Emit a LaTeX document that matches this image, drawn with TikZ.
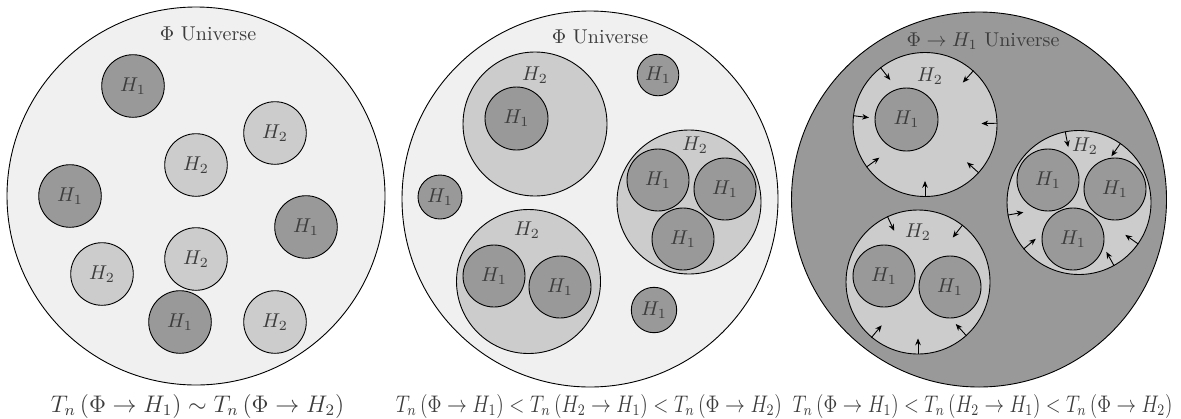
\documentclass[tikz,border=0pt]{standalone}
\usepackage{graphicx}
\usetikzlibrary{arrows.meta,calc}
\definecolor{bgA}{RGB}{240,240,240}
\definecolor{hTwo}{RGB}{204,204,204}
\definecolor{hOne}{RGB}{153,153,153}
\definecolor{txt}{RGB}{60,60,60}
\tikzset{
  ball/.style={circle, draw=black, line width=0.45pt, inner sep=0pt, text=txt},
  univ/.style={ball, fill=bgA},
  hone/.style={ball, fill=hOne},
  htwo/.style={ball, fill=hTwo},
  lab/.style={text=txt, inner sep=0pt},
  inarrow/.style={line width=0.45pt, -{Stealth[length=3.4pt,width=2.8pt]}},
}
\begin{document}
\begin{tikzpicture}[x=0.5pt,y=-0.5pt]
\useasboundingbox (0,0) rectangle (1181,418);
% ---------- panel 1 ----------
\node[univ, minimum size=189pt] (u1) at (196,196) {};
\node[lab] (t1) at (208,34) {$\Phi$ Universe};
\node[hone, minimum size=31.3pt] (a1) at (133,86) {$H_1$};
\node[htwo, minimum size=31.3pt] (a2) at (275,133) {$H_2$};
\node[htwo, minimum size=31.3pt] (a3) at (196,165) {$H_2$};
\node[hone, minimum size=31.3pt] (a4) at (70,196) {$H_1$};
\node[hone, minimum size=31.3pt] (a5) at (306,227) {$H_1$};
\node[htwo, minimum size=31.3pt] (a6) at (102,274) {$H_2$};
\node[htwo, minimum size=31.3pt] (a7) at (196,259) {$H_2$};
\node[hone, minimum size=31.3pt] (a8) at (180,322) {$H_1$};
\node[htwo, minimum size=31.3pt] (a9) at (275,322) {$H_2$};
\node[lab, font=\large] (c1) at (197.5,406) {$T_n\,(\Phi\rightarrow H_1)\sim T_n\,(\Phi\rightarrow H_2)$};
% ---------- panel 2 ----------
\node[univ, minimum size=188pt] (u2) at (590,199) {};
\node[lab] (t2) at (600,37) {$\Phi$ Universe};
\node[htwo, minimum size=72pt] (b2a) at (535,124) {};
\node[lab] (b2al) at (535,75) {$H_2$};
\node[hone, minimum size=31.5pt] (b1a) at (516.5,118.5) {$H_1$};
\node[hone, minimum size=20.8pt] (s1) at (658,75) {$H_1$};
\node[hone, minimum size=22pt] (s2) at (440,197) {$H_1$};
\node[hone, minimum size=22.7pt] (s3) at (654,310) {$H_1$};
\node[htwo, minimum size=72pt] (b2b) at (689,202) {};
\node[lab] (b2bl) at (695,145) {$H_2$};
\node[hone, minimum size=31pt] (b1b) at (658,180) {$H_1$};
\node[hone, minimum size=31pt] (b1c) at (725,189) {$H_1$};
\node[hone, minimum size=31pt] (b1d) at (683,239) {$H_1$};
\node[htwo, minimum size=72pt] (b2c) at (528.5,281.5) {};
\node[lab] (b2cl) at (527,230) {$H_2$};
\node[hone, minimum size=31pt] (b1e) at (494,276) {$H_1$};
\node[hone, minimum size=31pt] (b1f) at (560,287) {$H_1$};
\node[lab, font=\large] (c2) at (589,406) {\resizebox{193pt}{\height}{$T_n\,(\Phi\rightarrow H_1)<T_n\,(H_2\rightarrow H_1)<T_n\,(\Phi\rightarrow H_2)$}};
% ---------- panel 3 ----------
\node[ball, fill=hOne, minimum size=187.5pt] (u3) at (979,199.5) {};
\node[lab] (t3) at (983,41) {$\Phi\rightarrow H_1$ Universe};
\begin{scope}[xshift=195pt]
\node[htwo, minimum size=72pt] (q2a) at (535,124.5) {};
\node[lab] (q2al) at (540,76) {$H_2$};
\node[hone, minimum size=31.5pt] (q1a) at (516.5,119.5) {$H_1$};
\node[htwo, minimum size=72pt] (q2b) at (689,202.5) {};
\node[lab] (q2bl) at (695,146) {$H_2$};
\node[hone, minimum size=31pt] (q1b) at (658,180) {$H_1$};
\node[hone, minimum size=31pt] (q1c) at (725,189) {$H_1$};
\node[hone, minimum size=31pt] (q1d) at (683,239) {$H_1$};
\node[htwo, minimum size=72pt] (q2c) at (528,282) {};
\node[lab] (q2cl) at (528,232) {$H_2$};
\node[hone, minimum size=31pt] (q1e) at (494,276) {$H_1$};
\node[hone, minimum size=31pt] (q1f) at (560,287) {$H_1$};
\end{scope}
\foreach \a in {128,48,173,1,216,318,270}
  \draw[inarrow] (q2a.\a) -- ($(q2a.\a)!8pt!(q2a.center)$);
\foreach \a in {101,55,190,220,325,299}
  \draw[inarrow] (q2b.\a) -- ($(q2b.\a)!8pt!(q2b.center)$);
\foreach \a in {115,52,230,312,270}
  \draw[inarrow] (q2c.\a) -- ($(q2c.\a)!8pt!(q2c.center)$);
\node[lab, font=\large] (c3) at (982.5,406) {\resizebox{190pt}{\height}{$T_n\,(\Phi\rightarrow H_1)<T_n\,(H_2\rightarrow H_1)<T_n\,(\Phi\rightarrow H_2)$}};
\end{tikzpicture}
\end{document}
